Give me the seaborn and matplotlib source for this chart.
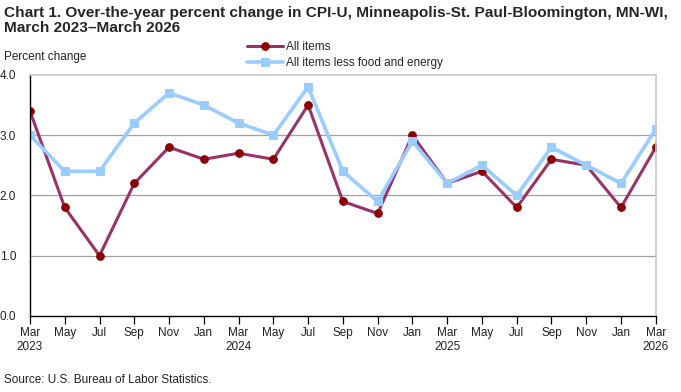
import matplotlib
matplotlib.use("Agg")
import matplotlib.pyplot as plt
import seaborn as sns
import pandas as pd

months = ["Mar", "May", "Jul", "Sep", "Nov", "Jan", "Mar", "May", "Jul", "Sep",
          "Nov", "Jan", "Mar", "May", "Jul", "Sep", "Nov", "Jan", "Mar"]
tick_labels = ["Mar\n2023", "May", "Jul", "Sep", "Nov", "Jan", "Mar\n2024", "May", "Jul", "Sep",
               "Nov", "Jan", "Mar\n2025", "May", "Jul", "Sep", "Nov", "Jan", "Mar\n2026"]
all_items = [3.4, 1.8, 1.0, 2.2, 2.8, 2.6, 2.7, 2.6, 3.5, 1.9, 1.7, 3.0, 2.2, 2.4, 1.8, 2.6, 2.5, 1.8, 2.8]
core = [3.0, 2.4, 2.4, 3.2, 3.7, 3.5, 3.2, 3.0, 3.8, 2.4, 1.9, 2.9, 2.2, 2.5, 2.0, 2.8, 2.5, 2.2, 3.1]

n = len(months)
df = pd.DataFrame({
    "idx": list(range(n)) * 2,
    "value": all_items + core,
    "series": ["All items"] * n + ["All items less food and energy"] * n,
})

sns.set_theme(style="white")
plt.rcParams["font.family"] = ["Liberation Sans", "DejaVu Sans"]

fig = plt.figure(figsize=(6.81, 3.92), dpi=100)
ax = fig.add_axes([0.044, 0.194, 0.919, 0.615])

sns.lineplot(data=df[df.series == "All items"], x="idx", y="value", ax=ax,
             color="#993366", lw=2.2, marker="o", markersize=5.5,
             markerfacecolor="#8B0000", markeredgecolor="#8B0000", label="All items")
sns.lineplot(data=df[df.series == "All items less food and energy"], x="idx", y="value", ax=ax,
             color="#99CCFF", lw=2.6, marker="s", markersize=5.5,
             markerfacecolor="#99CCFF", markeredgecolor="#99CCFF",
             label="All items less food and energy")

ax.set_xlim(0, n - 1)
ax.set_ylim(0, 4.0)
ax.set_yticks([0, 1, 2, 3, 4])
ax.set_yticklabels(["0.0", "1.0", "2.0", "3.0", "4.0"], fontsize=8.5, color="#222222")
ax.set_xticks(range(n))
ax.set_xticklabels(tick_labels, fontsize=8.5, color="#222222", linespacing=1.25)
ax.set_xlabel("")
ax.set_ylabel("")
for y in [1, 2, 3]:
    ax.axhline(y, color="#A0A0A0", lw=0.9, zorder=0)
ax.tick_params(axis="x", which="both", bottom=True, direction="out", length=6, width=0.9,
               color="black", pad=2)
ax.tick_params(axis="y", left=False, pad=4)
for s in ["left", "bottom"]:
    ax.spines[s].set_color("black")
    ax.spines[s].set_linewidth(1.0)
for s in ["top", "right"]:
    ax.spines[s].set_color("#C8C8C8")
    ax.spines[s].set_linewidth(1.2)

leg = ax.legend(loc="upper left", bbox_to_anchor=(0.34, 1.16), frameon=False, fontsize=8.5,
                handlelength=3.0, labelspacing=0.35, handletextpad=0.3, borderaxespad=0)

fig.text(0.006, 0.985, "Chart 1. Over-the-year percent change in CPI-U, Minneapolis-St. Paul-Bloomington, MN-WI,\nMarch 2023\u2013March 2026",
         fontsize=11.1, fontweight="bold", va="top", ha="left", linespacing=1.1)
fig.text(0.006, 0.855, "Percent change", fontsize=8.5, va="center", ha="left", color="#222222")
fig.text(0.006, 0.015, "Source: U.S. Bureau of Labor Statistics.", fontsize=8.5, va="bottom", ha="left",
         color="#222222")

fig.savefig("out.png", dpi=100)
